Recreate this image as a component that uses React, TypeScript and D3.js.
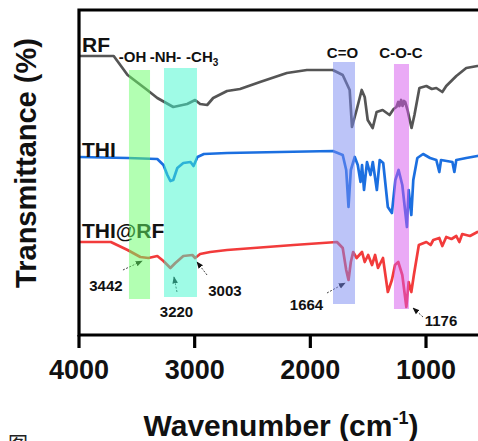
import React from "react";
import * as d3 from "d3";

const rfW = [4000,3700,3580,3410,3323,3185,3065,2996,2953,2892,2840,2720,2608,2435,2203,2030,1806,1720,1660,1640,1600,1556,1530,1504,1461,1427,1375,1315,1280,1256,1240,1230,1215,1203,1190,1180,1160,1125,1100,1057,997,950,911,859,825,738,652,556,400];
const rfT = [279,279,260,245,237,228,231,235,231,230,237,244,246,253,262,265,265,260,245,208,225,245,238,215,207,223,225,220,226,228,233,229,235,229,234,233,225,207,220,247,249,246,247,243,249,259,267,269,272];

const thiW = [4000,3580,3323,3270,3236,3210,3185,3150,3098,3036,3010,2976,2920,2720,1806,1720,1690,1670,1650,1616,1590,1566,1553,1536,1510,1480,1460,1425,1400,1370,1330,1295,1265,1237,1205,1165,1150,1127,1110,1075,1025,965,911,885,870,772,755,738,652,556,400];
const thiT = [178,177,176,170,160,154,155,167,172,173,169,178,181,182,184,180,165,128,165,178,170,153,170,145,173,160,173,145,175,172,128,122,155,165,150,108,145,120,155,177,181,177,175,163,175,173,163,175,177,179,180];

const mixW = [4000,3725,3580,3470,3400,3323,3270,3210,3167,3098,3020,2996,2953,2866,2720,2145,1770,1720,1690,1670,1650,1630,1600,1553,1530,1500,1467,1440,1415,1372,1330,1295,1268,1240,1205,1170,1150,1127,1105,1062,997,960,937,885,859,825,780,738,712,687,620,556,400];
const mixT = [93,93,85,78,77,79,74,67,72,79,80,77,81,83,85,90,93,87,65,55,73,83,77,83,73,80,70,80,67,77,43,55,70,73,60,28,53,43,60,90,93,90,95,97,89,98,96,99,93,101,99,103,105];

const seriesNames = ["RF", "THI", "THI@RF"];
const seriesLabelT = [283, 178, 97];
const seriesColors = ["#555555", "#1b6fe0", "#f23b3b"];

const bandNames = ["-OH", "-NH-", "-CH", "C=O", "C-O-C"];
const bandFrom = [3568, 3265, 1804, 1277];
const bandTo = [3386, 2980, 1614, 1147];
const bandTop = [265, 267, 273, 271];
const bandBottom = [36, 38, 31, 26];
const bandColors = ["#66ff66", "#3ff7cd", "#7989f1", "#d555ed"];
const bandLabelW = [3537, 3252, 2935, 1722, 1216];
const bandLabelT = [273, 273, 273, 277, 277];

const peakLabels = ["3442", "3220", "3003", "1664", "1176"];
const peakTextW = [3767, 3157, 2738, 2033, 870];
const peakTextT = [44, 18, 39, 25, 9];
const peakTailW = [3620, 3153, 2893, 1856, 1026];
const peakTailT = [65, 43, 60, 42, 18];
const peakHeadW = [3455, 3179, 2980, 1700, 1112];
const peakHeadT = [74, 58, 73, 52, 27];

const xTicks = [4000, 3000, 2000, 1000];

const W = 478;
const H = 441;
const font = "Arial, 'Liberation Sans', sans-serif";

export default function App() {
  const x = d3.scaleLinear().domain([4000, 400]).range([79, 79 + 3600 * 0.11567]);
  const y = d3.scaleLinear().domain([0, 325]).range([335, 10]);
  const line = d3
    .line<[number, number]>()
    .x((d) => x(d[0]))
    .y((d) => y(d[1]))
    .curve(d3.curveLinear);

  const series = [
    d3.zip(rfW, rfT) as [number, number][],
    d3.zip(thiW, thiT) as [number, number][],
    d3.zip(mixW, mixT) as [number, number][],
  ];

  const x0 = x(4000);
  const yTop = y(325);
  const yBot = y(0);

  return (
    <svg
      width={W}
      height={H}
      style={{ position: "absolute", left: 0, top: 0, background: "#fff" }}
    >
      <defs>
        <marker id="arr" viewBox="0 0 10 10" refX="9" refY="5" markerWidth="7" markerHeight="7" orient="auto">
          <path d="M0,1 L10,5 L0,9 z" fill="#111" />
        </marker>
      </defs>

      {series.map((s, i) => (
        <path
          key={seriesNames[i]}
          d={line(s) || ""}
          fill="none"
          stroke={seriesColors[i]}
          strokeWidth={2.7}
          strokeLinejoin="round"
        />
      ))}

      {seriesNames.map((n, i) => (
        <text
          key={n}
          x={x0 + 3}
          y={y(seriesLabelT[i])}
          fontFamily={font}
          fontWeight="bold"
          fontSize={21}
          fill="#111"
        >
          {n}
        </text>
      ))}

      {peakLabels.map((p, i) => (
        <g key={p}>
          <line
            x1={x(peakTailW[i])}
            y1={y(peakTailT[i])}
            x2={x(peakHeadW[i])}
            y2={y(peakHeadT[i])}
            stroke="#444"
            strokeWidth={1}
            strokeDasharray="2,1.5"
            markerEnd="url(#arr)"
          />
          <text
            x={x(peakTextW[i])}
            y={y(peakTextT[i])}
            textAnchor="middle"
            fontFamily={font}
            fontWeight="bold"
            fontSize={15}
            fill="#111"
          >
            {p}
          </text>
        </g>
      ))}

      {bandFrom.map((b, i) => (
        <rect
          key={"band" + i}
          x={x(b)}
          y={y(bandTop[i])}
          width={x(bandTo[i]) - x(b)}
          height={y(bandBottom[i]) - y(bandTop[i])}
          fill={bandColors[i]}
          opacity={0.5}
        />
      ))}

      {bandNames.map((n, i) => (
        <text
          key={n}
          x={x(bandLabelW[i])}
          y={y(bandLabelT[i])}
          textAnchor="middle"
          fontFamily={font}
          fontWeight="bold"
          fontSize={15}
          fill="#111"
        >
          {n}
          {n === "-CH" ? (
            <tspan fontSize={10} dy={4}>
              3
            </tspan>
          ) : null}
        </text>
      ))}

      <path
        d={`M${W + 10},${yTop} L${x0},${yTop} L${x0},${yBot} L${W + 10},${yBot}`}
        fill="none"
        stroke="#000"
        strokeWidth={3.2}
      />

      {xTicks.map((t) => (
        <g key={t}>
          <line x1={x(t)} x2={x(t)} y1={yBot} y2={yBot + 13} stroke="#000" strokeWidth={3.2} />
          <text
            x={x(t)}
            y={379}
            textAnchor="middle"
            fontFamily={font}
            fontWeight="bold"
            fontSize={27}
            fill="#111"
          >
            {t}
          </text>
        </g>
      ))}

      <text
        x={281}
        y={436}
        textAnchor="middle"
        fontFamily={font}
        fontWeight="bold"
        fontSize={30}
        fill="#111"
      >
        Wavenumber (cm
        <tspan fontSize={18} dy={-12}>
          -1
        </tspan>
        <tspan dy={12}>)</tspan>
      </text>

      <text
        transform={`translate(36, ${163}) rotate(-90)`}
        textAnchor="middle"
        fontFamily={font}
        fontWeight="bold"
        fontSize={29}
        fill="#111"
      >
        Transmittance (%)
      </text>

      <text x={8} y={452} fontFamily="'Noto Sans CJK SC', serif" fontSize={20} fill="#222">
        图
      </text>
    </svg>
  );
}
